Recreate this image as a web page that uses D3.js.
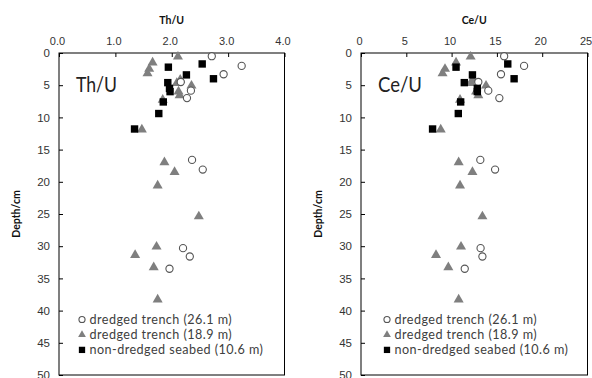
<!DOCTYPE html>
<html>
<head>
<meta charset="utf-8">
<script src="https://cdn.jsdelivr.net/npm/d3@7"></script>
<style>
  body { margin: 0; background: #fff; }
  svg { display: block; font-family: Lato, "Open Sans", sans-serif; }
</style>
</head>
<body>
<svg id="chart" width="592" height="378"></svg>
<script>
// depths (cm) for each series
const depth261 = [0.5, 2.0, 3.3, 4.5, 5.85, 7.0, 16.6, 18.1, 30.3, 31.6, 33.5];
const depth189 = [0.5, 1.4, 2.4, 3.1, 4.1, 4.6, 5.0, 5.9, 6.5, 7.2, 11.8,
                  16.9, 18.4, 20.5, 25.3, 30.0, 31.3, 33.2, 38.2];
const depth106 = [1.7, 2.2, 3.4, 4.0, 4.6, 5.5, 6.0, 7.6, 9.4, 11.8];

// Th/U values
const thu261 = [2.71, 3.24, 2.92, 2.16, 2.34, 2.27, 2.36, 2.55, 2.20, 2.32, 1.96];
const thu189 = [2.11, 1.66, 1.60, 1.57, 2.15, 2.09, 2.35, 2.12, 2.14, 1.84, 1.47,
                1.87, 2.05, 1.75, 2.48, 1.73, 1.35, 1.68, 1.75];
const thu106 = [2.54, 1.94, 2.26, 2.74, 1.93, 1.96, 1.97, 1.85, 1.77, 1.34];

// Ce/U values
const ceu261 = [15.8, 18.0, 15.45, 12.95, 14.05, 15.27, 13.17, 14.8, 13.2, 13.4, 11.45];
const ceu189 = [12.1, 10.49, 9.27, 9.0, 12.3, 12.14, 13.8, 12.7, 12.95, 10.93, 8.8,
                10.78, 12.3, 10.93, 13.4, 11.04, 8.28, 9.64, 10.78];
const ceu106 = [16.2, 10.49, 12.3, 16.9, 11.4, 12.84, 12.84, 11.0, 10.74, 7.9];

const thuTicks = [0, 1, 2, 3, 4];
const ceuTicks = [0, 5, 10, 15, 20, 25];
const depthTicks = [0, 5, 10, 15, 20, 25, 30, 35, 40, 45, 50];
const legendLabels = ["dredged trench (26.1 m)", "dredged trench (18.9 m)", "non-dredged seabed (10.6 m)"];

const svg = d3.select("#chart");
const plotTop = 53, plotBottom = 375;
const triColor = "#7f7f7f", circColor = "#555", textColor = "#333";

const y = d3.scaleLinear().domain([0, 50]).range([plotTop, plotBottom]);

function drawMarker(g, type, cx, cy, s) {
    if (type === "circle") {
        g.append("circle").attr("cx", cx).attr("cy", cy).attr("r", 3.6 * s)
            .attr("fill", "#fff").attr("stroke", circColor).attr("stroke-width", 1.1);
    } else if (type === "triangle") {
        g.append("path")
            .attr("d", d3.symbol(d3.symbolTriangle, 36 * s * s)())
            .attr("transform", `translate(${cx},${cy})`)
            .attr("fill", triColor);
    } else {
        const w = 7.4 * s;
        g.append("rect").attr("x", cx - w / 2).attr("y", cy - w / 2)
            .attr("width", w).attr("height", w).attr("fill", "#000");
    }
}

function drawPanel(cfg) {
    const x = d3.scaleLinear().domain(cfg.domain).range([cfg.left, cfg.right]);
    const g = svg.append("g");

    // top axis, ticks pointing inward
    g.append("g")
        .attr("transform", `translate(0,${plotTop})`)
        .call(d3.axisTop(x).tickValues(cfg.ticks).tickFormat(cfg.fmt).tickSize(-4).tickPadding(8))
        .call(a => a.select(".domain").remove())
        .call(a => a.selectAll("text").attr("fill", textColor).attr("font-size", 11).attr("dx", -2))
        .call(a => a.selectAll("line").attr("stroke", "#000"));

    // left axis, ticks pointing inward
    g.append("g")
        .attr("transform", `translate(${cfg.left},0)`)
        .call(d3.axisLeft(y).tickValues(depthTicks).tickSize(-4).tickPadding(9))
        .call(a => a.select(".domain").remove())
        .call(a => a.selectAll("text").attr("fill", textColor).attr("font-size", 11.5))
        .call(a => a.selectAll("line").attr("stroke", "#000"));

    // plot frame
    g.append("rect")
        .attr("x", cfg.left).attr("y", plotTop)
        .attr("width", cfg.right - cfg.left).attr("height", plotBottom - plotTop)
        .attr("fill", "none").attr("stroke", "#000").attr("stroke-width", 1);

    // axis titles
    g.append("text")
        .attr("x", (cfg.left + cfg.right) / 2).attr("y", 24)
        .attr("text-anchor", "middle").attr("font-size", 10.5).attr("font-weight", "bold")
        .attr("fill", "#111").text(cfg.title);

    g.append("text")
        .attr("transform", `translate(${cfg.left - 39},${y(25)}) rotate(-90)`)
        .attr("text-anchor", "middle").attr("font-size", 10.5).attr("font-weight", "bold")
        .attr("fill", "#111").text("Depth/cm");

    // large inset label
    g.append("text")
        .attr("x", cfg.left + 17).attr("y", y(6.0))
        .attr("font-size", 21).attr("fill", "#222")
        .attr("textLength", cfg.labelWidth).attr("lengthAdjust", "spacingAndGlyphs")
        .text(cfg.title);

    // points: triangles, then circles, then squares on top
    const pts = g.append("g");
    cfg.v189.forEach((v, i) => drawMarker(pts, "triangle", x(v), y(depth189[i]) + 0.5, 1.1));
    cfg.v261.forEach((v, i) => drawMarker(pts, "circle", x(v), y(depth261[i]), 1));
    cfg.v106.forEach((v, i) => drawMarker(pts, "square", x(v), y(depth106[i]), 1));

    // legend
    const lg = g.append("g");
    const types = ["circle", "triangle", "square"];
    legendLabels.forEach((lab, i) => {
        const ly = 319.5 + i * 15.2;
        drawMarker(lg, types[i], cfg.left + cfg.legendDx, ly, 0.85);
        lg.append("text")
            .attr("x", cfg.left + cfg.legendDx + 7.5).attr("y", ly + 4.3)
            .attr("font-size", 12.6).attr("letter-spacing", 0.45)
            .attr("fill", "#404040").text(lab);
    });
}

drawPanel({
    title: "Th/U", domain: [0, 4], left: 59, right: 284.5,
    ticks: thuTicks, fmt: d3.format(".1f"),
    v261: thu261, v189: thu189, v106: thu106, legendDx: 23, labelWidth: 41
});

drawPanel({
    title: "Ce/U", domain: [0, 25], left: 361, right: 587.5,
    ticks: ceuTicks, fmt: d3.format("d"),
    v261: ceu261, v189: ceu189, v106: ceu106, legendDx: 26, labelWidth: 44
});
</script>
</body>
</html>
